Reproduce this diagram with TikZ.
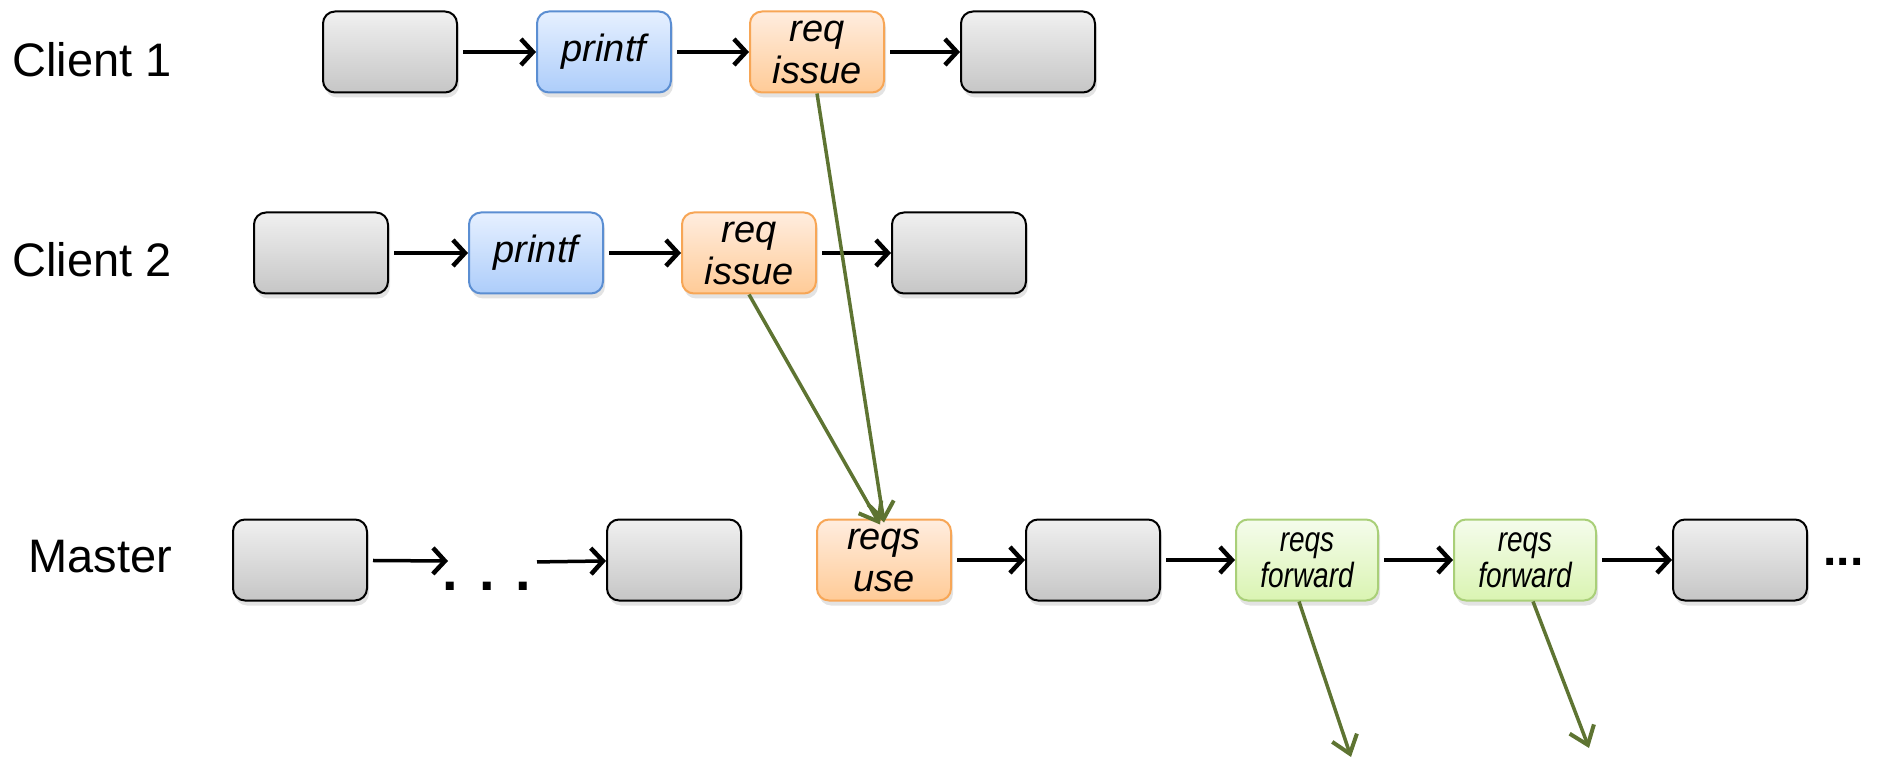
\documentclass[tikz,border=0pt]{standalone}
\usepackage{fontspec}
\setmainfont{Liberation Sans}
\newfontfamily\condfont[FakeStretch=0.8]{Liberation Sans}
\usetikzlibrary{arrows.meta,shadows}
\definecolor{grayT}{HTML}{F0F0F0}
\definecolor{grayB}{HTML}{C6C6C6}
\definecolor{blueT}{HTML}{E6F0FF}
\definecolor{blueB}{HTML}{ADCDFA}
\definecolor{blueD}{HTML}{5B8ED2}
\definecolor{orT}{HTML}{FFEDDF}
\definecolor{orB}{HTML}{FFCB97}
\definecolor{orD}{HTML}{F7A656}
\definecolor{grT}{HTML}{F5FCEC}
\definecolor{grB}{HTML}{DAF4B2}
\definecolor{grD}{HTML}{A9CF78}
\definecolor{olive}{HTML}{5E7432}
\begin{document}
\begin{tikzpicture}[x=1pt,y=-1pt,
  base/.style={rounded corners=12pt, minimum width=134pt, minimum height=81pt,
    line width=2pt, inner sep=0pt, align=center,
    drop shadow={shadow xshift=2pt, shadow yshift=-5pt, opacity=0.22},
    font=\itshape\fontsize{38}{42}\selectfont},
  gbox/.style={base, draw=black, top color=grayT, bottom color=grayB},
  bbox/.style={base, draw=blueD, top color=blueT, bottom color=blueB},
  obox/.style={base, draw=orD, top color=orT, bottom color=orB},
  fbox/.style={base, draw=grD, top color=grT, bottom color=grB, minimum width=142pt,
    font=\condfont\itshape\fontsize{35}{36}\selectfont},
  lbl/.style={font=\fontsize{47}{50}\selectfont, anchor=west},
  blk/.style={line width=3.5pt, -{Straight Barb[length=12pt,width=26pt,line width=4.5pt]}, shorten <=5pt},
  grn/.style={line width=3.5pt, draw=olive, -{Straight Barb[length=17pt,width=26pt,line width=4pt]}}
]
\useasboundingbox (0,0) rectangle (1887,759);

% labels
\node[lbl] (lc1) at (9,60) {Client 1};
\node[lbl] (lc2) at (9,260) {Client 2};
\node[lbl] (lm) at (25,557) {Master};

% client 1
\node[gbox] (a1) at (390,52) {};
\node[bbox] (p1) at (604,52) {printf};
\node[obox] (r1) at (817,52) {req\\issue};
\node[gbox] (d1) at (1028,52) {};
\draw[blk] (a1) -- (p1);
\draw[blk] (p1) -- (r1);
\draw[blk] (r1) -- (d1);

% client 2
\node[gbox] (a2) at (321,253) {};
\node[bbox] (p2) at (536,253) {printf};
\node[obox] (r2) at (749,253) {req\\issue};
\node[gbox] (d2) at (959,253) {};
\draw[blk] (a2) -- (p2);
\draw[blk] (p2) -- (r2);
\draw[blk] (r2) -- (d2);

% master
\node[gbox] (m1) at (300,560) {};
\coordinate (d1l) at (448,561);
\coordinate (d1r) at (532,562);
\node[font=\bfseries\fontsize{56}{56}\selectfont] (dots1) at (487,586) {. . .};
\node[gbox] (m2) at (674,560) {};
\node[obox] (u) at (884,560) {reqs\\use};
\node[gbox] (m4) at (1093,560) {};
\node[fbox] (f1) at (1307,560) {reqs\\forward};
\node[fbox] (f2) at (1525,560) {reqs\\forward};
\node[gbox] (m7) at (1740,560) {};
\node[font=\bfseries\fontsize{48}{48}\selectfont, anchor=west] (dots2) at (1820,562) {...};
\draw[blk] (m1) -- (d1l);
\draw[blk] (d1r) -- (m2);
\draw[blk] (u) -- (m4);
\draw[blk] (m4) -- (f1);
\draw[blk] (f1) -- (f2);
\draw[blk] (f2) -- (m7);

% green connectors
\coordinate (f1e) at (1351,757);
\coordinate (f2e) at (1589,748);
\draw[grn] (r1.south) -- ([yshift=-4pt]u.north);
\draw[grn] (r2.south) -- ([xshift=-4pt,yshift=-6pt]u.north);
\draw[grn] (f1.south) ++(-8,0) -- (f1e);
\draw[grn] (f2.south) ++(8,0) -- (f2e);
\end{tikzpicture}
\end{document}
